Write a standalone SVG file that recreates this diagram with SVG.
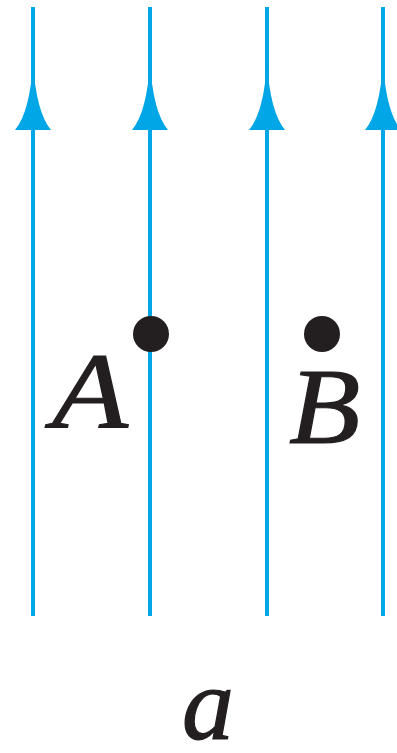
<svg xmlns="http://www.w3.org/2000/svg" width="397" height="753" viewBox="0 0 397 753">
<style>
.ln{stroke:#00a6e6;stroke-width:4;fill:none}
.ah{fill:#00a6e6}
.lb{font-family:"Liberation Serif",serif;font-style:italic;fill:#231f20;stroke:#231f20;stroke-width:1.2}
.dot{fill:#231f20}
</style>
<defs>
<path id="arr" d="M0,62 Q3,112 18,130 L-18,130 Q-3,112 0,62 Z"/>
</defs>
<rect width="397" height="753" fill="#fff"/>
<g id="connectors">
<line class="ln" x1="33" y1="7" x2="33" y2="616"/>
<line class="ln" x1="150" y1="7" x2="150" y2="616"/>
<line class="ln" x1="267" y1="7" x2="267" y2="616"/>
<line class="ln" x1="383" y1="7" x2="383" y2="616"/>
<use href="#arr" class="ah" x="33"/>
<use href="#arr" class="ah" x="150"/>
<use href="#arr" class="ah" x="267"/>
<use href="#arr" class="ah" x="383"/>
</g>
<g id="A">
<circle class="dot" cx="151" cy="334" r="18"/>
<text class="lb" font-size="108" transform="translate(52,428) scale(1.15,1)">A</text>
</g>
<g id="B">
<circle class="dot" cx="322" cy="334" r="18"/>
<text class="lb" font-size="108" transform="translate(289,443) scale(1.08,1)">B</text>
</g>
<g id="caption">
<text class="lb" x="208" y="739" font-size="104" text-anchor="middle">a</text>
</g>
</svg>
